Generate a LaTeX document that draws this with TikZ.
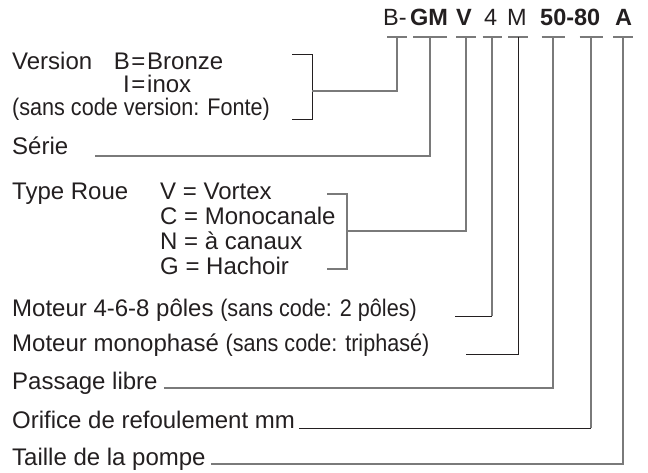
\documentclass[tikz,border=0pt]{standalone}
\usepackage{fontspec}
\setmainfont{Liberation Sans}
\newfontfamily\narrowfont[FakeStretch=0.9]{Liberation Sans}
\definecolor{ink}{HTML}{231F20}
\definecolor{leadgray}{HTML}{7A7A7A}
\begin{document}
\begin{tikzpicture}[x=1pt,y=-1pt,
  txt/.style={inner sep=0pt, anchor=base west, text=ink, font=\fontsize{24}{28}\selectfont},
  txtr/.style={txt, anchor=base east},
  txtc/.style={txt, anchor=base},
  code/.style={inner sep=0pt, anchor=base west, text=ink, font=\fontsize{23.5}{27}\selectfont},
  lead/.style={draw=leadgray, line width=1.1pt},
  leadk/.style={draw=ink, line width=1pt}]
\useasboundingbox (0,0) rectangle (648,473);

% code line
\node[code] (cB)  at (383,26) {B-};
\node[code] (cGM) at (410,26) {\bfseries GM};
\node[code] (cV)  at (456,26) {\bfseries V};
\node[code] (c4)  at (484,26) {4};
\node[code] (cM)  at (507,26) {M};
\node[code] (cN)  at (540,26) {\bfseries 50-80};
\node[code] (cA)  at (615,26) {\bfseries A};

% tick coordinates
\coordinate (t1) at (397,37);
\coordinate (t2) at (430,37);
\coordinate (t3) at (466,37);
\coordinate (t4) at (492,37);
\coordinate (t5) at (518,37);
\coordinate (t6) at (553,37);
\coordinate (t7) at (591,37);
\coordinate (t8) at (623,37);
\draw[lead] ([xshift=-10pt]t1) -- ([xshift=10pt]t1);
\draw[lead] ([xshift=-17pt]t2) -- ([xshift=17pt]t2);
\draw[lead] ([xshift=-10pt]t3) -- ([xshift=10pt]t3);
\draw[lead] ([xshift=-9.5pt]t4) -- ([xshift=9.5pt]t4);
\draw[lead] ([xshift=-10pt]t5) -- ([xshift=10pt]t5);
\draw[lead] ([xshift=-11.5pt]t6) -- ([xshift=11.5pt]t6);
\draw[lead] ([xshift=-11.5pt]t7) -- ([xshift=11.5pt]t7);
\draw[lead] ([xshift=-10pt]t8) -- ([xshift=10pt]t8);

% version block
\node[txt] (ver)  at (12,70) {Version};
\node[txtr] (vB) at (130,70) {B};
\node[txtc] (vBe) at (138.5,70) {=};
\node[txt] (vBv) at (147,70) {Bronze};
\node[txtr] (vI) at (130,93) {I};
\node[txtc] (vIe) at (138.5,93) {=};
\node[txt] (vIv) at (147,93) {inox};
\node[txt] (verS) at (12,116) {\narrowfont (sans code version: Fonte)};
\node[txt] (serie) at (12,155) {Série};

% type block
\node[txt] (type) at (12,200) {Type Roue};
\node[txt] (tV) at (160,200) {V = Vortex};
\node[txt] (tC) at (160,224.7) {C = Monocanale};
\node[txt] (tN) at (160,249.3) {N = à canaux};
\node[txt] (tG) at (160,274) {G = Hachoir};

% lower labels
\node[txt] (mot) at (12,316) {Moteur 4-6-8 pôles {\narrowfont (sans code: 2 pôles)}};
\node[txt] (mono) at (12,351) {Moteur monophasé {\narrowfont (sans code: triphasé)}};
\node[txt] (pass) at (12,389) {Passage libre};
\node[txt] (orif) at (12,428) {Orifice de refoulement mm};
\node[txt] (taille) at (12,465) {Taille de la pompe};

% version bracket
\draw[leadk] (292,55) -- (312,55) -- (312,120) -- (292,120);
\coordinate (vb) at (312,91);
\draw[lead] (vb) -| (t1);
% serie
\coordinate (s0) at (95,156);
\draw[lead] (s0) -| (t2);
% type bracket
\draw[lead] (327,194) -- (347,194) -- (347,269) -- (327,269);
\coordinate (tb) at (347,231);
\draw[lead] (tb) -| (t3);
% moteur
\coordinate (m0) at (455,316);
\draw[leadk] (m0) -- (t4 |- m0);
\draw[lead] (t4 |- m0) -- (t4);
% monophase
\coordinate (mo0) at (466,354);
\draw[leadk] (mo0) -| (t5);
% passage
\coordinate (p0) at ([xshift=6pt,yshift=1pt]pass.base east);
\draw[lead] (p0) -| (t6);
% orifice
\coordinate (o0) at ([xshift=4pt]orif.base east);
\draw[leadk] (o0) -- (t7 |- o0);
\draw[lead] (t7 |- o0) -- (t7);
% taille
\coordinate (ta0) at ([xshift=5pt,yshift=1pt]taille.base east);
\draw[lead] (ta0) -| (t8);
\end{tikzpicture}
\end{document}
